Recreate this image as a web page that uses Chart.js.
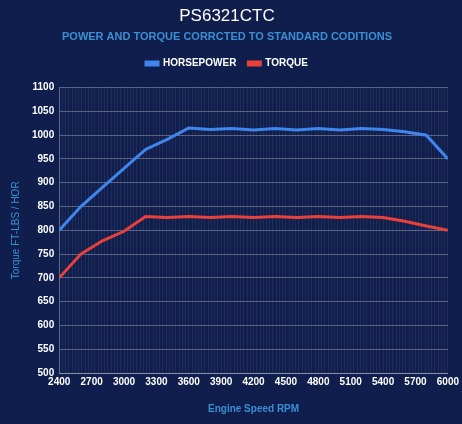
<!DOCTYPE html>
<html>
<head>
<meta charset="utf-8">
<script src="https://cdn.jsdelivr.net/npm/chart.js@4/dist/chart.umd.min.js"></script>
<style>
	html, body { margin: 0; padding: 0; background: #101e4d; }
	#wrap { width: 462px; height: 424px; }
</style>
</head>
<body>
<div id="wrap"><canvas id="myChart"></canvas></div>
<script>
// engine speed (rpm) where the dyno readings were taken
const rpm = [2400, 2600, 2800, 3000, 3200, 3400, 3600, 3800, 4000, 4200, 4400, 4600, 4800, 5000, 5200, 5400, 5600, 5800, 6000];
const horsepower = [800, 850, 890, 930, 970, 991, 1015, 1012, 1014, 1011, 1014, 1011, 1014, 1011, 1014, 1012, 1007, 1000, 950];
const torque = [700, 750, 778, 798, 829, 827, 829, 827, 829, 827, 829, 827, 829, 827, 829, 827, 819, 809, 800];
const yTicks = { min: 500, max: 1100, step: 50 };
const xTicks = { min: 2400, max: 6000, step: 30, labelEvery: 300 };

const FONT = "'Liberation Sans', Arial, sans-serif";
const BLUE = "#3f86ec";
const RED = "#e8413a";
const TITLE_BLUE = "#3a8fd3";

function toPoints(xs, ys) {
	return xs.map((x, i) => ({ x: x, y: ys[i] }));
}

// adds some room between the legend and the plot
const legendGap = {
	id: "legendGap",
	beforeInit(chart) {
		const fit = chart.legend.fit;
		chart.legend.fit = function () {
			fit.bind(chart.legend)();
			this.height += 9;
		};
	},
};

let ctx = document.querySelector("#myChart").getContext("2d");
let chart = new Chart(ctx, {
	type: "line",
	data: {
		datasets: [
			{
				label: "HORSEPOWER",
				data: toPoints(rpm, horsepower),
				borderColor: BLUE,
				backgroundColor: BLUE,
				borderWidth: 3,
				pointRadius: 0,
				tension: 0,
			},
			{
				label: "TORQUE",
				data: toPoints(rpm, torque),
				borderColor: RED,
				backgroundColor: RED,
				borderWidth: 3,
				pointRadius: 0,
				tension: 0,
			},
		],
	},
	plugins: [legendGap],
	options: {
		responsive: true,
		maintainAspectRatio: false,
		animation: false,
		layout: { padding: { left: 6, right: 14, bottom: 5, top: 4 } },
		plugins: {
			title: {
				display: true,
				text: "PS6321CTC",
				color: "#ffffff",
				font: { family: FONT, size: 17, weight: "normal" },
				padding: { top: 2, bottom: 4 },
			},
			subtitle: {
				display: true,
				text: "POWER AND TORQUE CORRCTED TO STANDARD CODITIONS",
				color: TITLE_BLUE,
				font: { family: FONT, size: 11, weight: "bold" },
				padding: { bottom: 3 },
			},
			legend: {
				labels: {
					color: "#ffffff",
					font: { family: FONT, size: 10, weight: "bold" },
					boxWidth: 12,
					boxHeight: 3,
					padding: 12,
				},
			},
			tooltip: { enabled: false },
		},
		scales: {
			x: {
				type: "linear",
				min: xTicks.min,
				max: xTicks.max,
				grid: { color: "rgba(255,255,255,0.07)", drawTicks: false },
				border: { color: "rgba(255,255,255,0.3)" },
				ticks: {
					stepSize: xTicks.step,
					autoSkip: false,
					maxRotation: 0,
					padding: 3,
					color: "#ffffff",
					font: { family: FONT, size: 10, weight: "bold" },
					callback: (v) => (v % xTicks.labelEvery === 0 ? String(v) : ""),
				},
				title: {
					display: true,
					text: "Engine Speed RPM",
					color: TITLE_BLUE,
					font: { family: FONT, size: 10, weight: "bold" },
					padding: { top: 12 },
				},
			},
			y: {
				min: yTicks.min,
				max: yTicks.max,
				grid: { color: "rgba(255,255,255,0.3)", drawTicks: false },
				border: { color: "rgba(255,255,255,0.3)" },
				ticks: {
					stepSize: yTicks.step,
					padding: 5,
					color: "#ffffff",
					font: { family: FONT, size: 10, weight: "bold" },
					callback: (v) => String(v),
				},
				title: {
					display: true,
					text: "Torque FT-LBS / HOR",
					color: TITLE_BLUE,
					font: { family: FONT, size: 10, weight: "normal" },
					padding: { bottom: 5 },
				},
			},
		},
	},
});
</script>
</body>
</html>
